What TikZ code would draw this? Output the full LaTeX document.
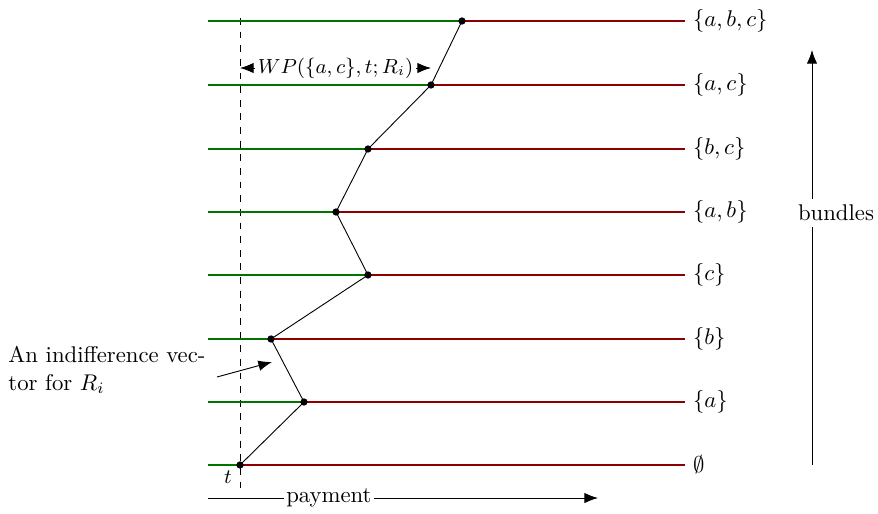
\documentclass[tikz,border=0pt]{standalone}
\usepackage{xcolor}
\usepackage{tikz}
\usetikzlibrary{arrows.meta, positioning}
\definecolor{paygreen}{RGB}{0, 115, 0}
\definecolor{payred}{RGB}{140, 0, 0}

\begin{document}
\begin{tikzpicture}[x=0.44pt, y=-0.44pt, every node/.style={font=\normalsize},
  >={Latex[length=6pt, width=4.6pt]},
  dot/.style={circle, fill=black, inner sep=0pt, minimum size=3.2pt},
  bundleline/.style={semithick}]
\useasboundingbox (0,0) rectangle (878,513);
\draw[dashed] (240,18) -- (240,490);
% one row per bundle
\foreach \i/\y/\xd/\lab in {0/465/240/{$\emptyset$}, 1/402/304/{$\{a\}$}, 2/339/271/{$\{b\}$},
  3/275/368/{$\{c\}$}, 4/212/336/{$\{a,b\}$}, 5/149/368/{$\{b,c\}$}, 6/85/431/{$\{a,c\}$},
  7/21/462/{$\{a,b,c\}$}} {
  \coordinate (s\i) at (208,\y);
  \coordinate (e\i) at (685,\y);
  \coordinate (p\i) at (\xd,\y);
  \draw[bundleline, paygreen] (s\i) -- (p\i);
  \draw[bundleline, payred] (p\i) -- (e\i);
  \node[dot] (d\i) at (p\i) {};
  \node[right] (l\i) at (e\i) {\lab};
}
\draw (d0.center) -- (d1.center) -- (d2.center) -- (d3.center) -- (d4.center)
  -- (d5.center) -- (d6.center) -- (d7.center);
\node[font=\small] (t) at (228,477) {$t$};
% WP arrow
\coordinate (wpl) at (240,68);
\coordinate (wpr) at (431,68);
\draw[<->] (wpl) -- node[fill=white, inner sep=1pt, font=\small] (wp) {$WP(\{a,c\},t;R_i)$} (wpr);
% indifference vector
\node[anchor=west, align=left, inner sep=0pt] (indiff) at (8,370) {An indifference vec-\\tor for $R_i$};
\coordinate (iv) at (217,377);
\draw[->] (iv) -- (272,362);
% axes
\coordinate (pay0) at (208,498);
\coordinate (pay1) at (598,498);
\draw[->] (pay0) -- node[pos=0.31, fill=white, inner sep=1pt] (payment) {payment} (pay1);
\node (bundles) at (836,213) {bundles};
\coordinate (bun0) at (812,465);
\coordinate (bun1) at (812,50);
\draw (bun0) -- (812,227);
\draw[->] (812,199) -- (bun1);
\end{tikzpicture}
\end{document}
